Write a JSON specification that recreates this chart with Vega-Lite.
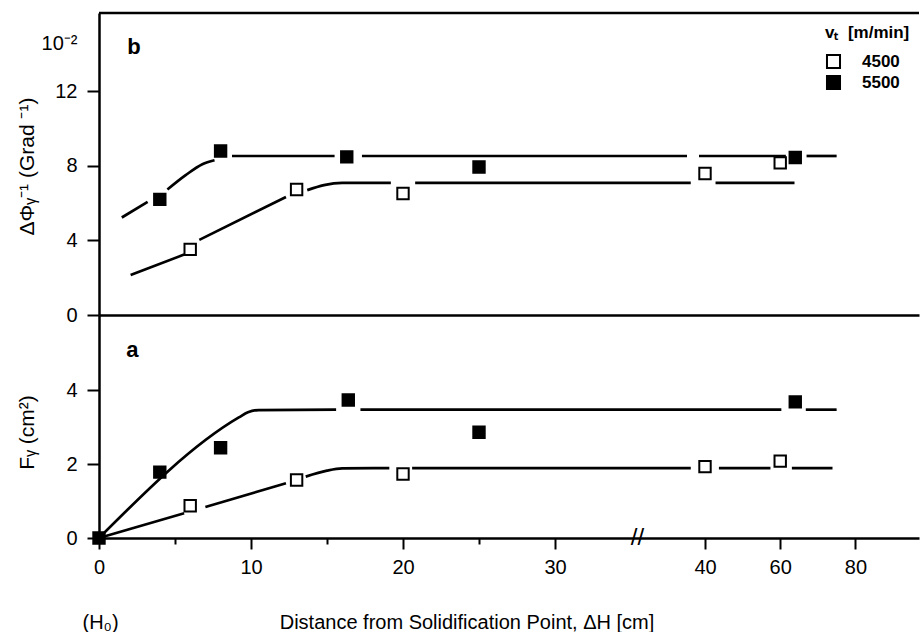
{
  "$schema": "https://vega.github.io/schema/vega-lite/v6.json",
  "background": "white",
  "padding": {"left": 16, "top": 11, "right": 0, "bottom": 0},
  "config": {
    "font": "Liberation Sans",
    "view": {"stroke": null},
    "axis": {"domainColor": "black", "domainWidth": 2.5, "tickColor": "black", "tickWidth": 2, "labelColor": "black", "titleColor": "black", "labelFontSize": 20, "titleFontSize": 20, "titleFontWeight": "normal", "grid": false, "labelFlush": false, "labelOverlap": false, "labelFont": "Liberation Sans", "titleFont": "Liberation Sans"}
  },
  "datasets": {
    "points": [
      {"panel": "b", "series": "4500", "x": 6, "y": 3.52},
      {"panel": "b", "series": "4500", "x": 13, "y": 6.73},
      {"panel": "b", "series": "4500", "x": 20, "y": 6.52},
      {"panel": "b", "series": "4500", "x": 40, "y": 7.59},
      {"panel": "b", "series": "4500", "x": 60, "y": 8.16},
      {"panel": "b", "series": "5500", "x": 4, "y": 6.2},
      {"panel": "b", "series": "5500", "x": 8, "y": 8.8},
      {"panel": "b", "series": "5500", "x": 16.3, "y": 8.48},
      {"panel": "b", "series": "5500", "x": 25, "y": 7.94},
      {"panel": "b", "series": "5500", "x": 64, "y": 8.45},
      {"panel": "a", "series": "4500", "x": 6, "y": 0.87},
      {"panel": "a", "series": "4500", "x": 13, "y": 1.57},
      {"panel": "a", "series": "4500", "x": 20, "y": 1.73},
      {"panel": "a", "series": "4500", "x": 40, "y": 1.93},
      {"panel": "a", "series": "4500", "x": 60, "y": 2.08},
      {"panel": "a", "series": "5500", "x": 0, "y": 0},
      {"panel": "a", "series": "5500", "x": 4, "y": 1.78},
      {"panel": "a", "series": "5500", "x": 8, "y": 2.44},
      {"panel": "a", "series": "5500", "x": 16.4, "y": 3.73},
      {"panel": "a", "series": "5500", "x": 25, "y": 2.86},
      {"panel": "a", "series": "5500", "x": 64, "y": 3.68}
    ],
    "lines": [
      {"panel": "b", "seg": "b5a", "x": 1.5, "y": 5.23},
      {"panel": "b", "seg": "b5a", "x": 3.2, "y": 6.07},
      {"panel": "b", "seg": "b5b", "x": 4.5, "y": 6.73},
      {"panel": "b", "seg": "b5b", "x": 5.7, "y": 7.5},
      {"panel": "b", "seg": "b5b", "x": 6.8, "y": 8.09},
      {"panel": "b", "seg": "b5b", "x": 7.6, "y": 8.3},
      {"panel": "b", "seg": "b5c", "x": 8.75, "y": 8.53},
      {"panel": "b", "seg": "b5c", "x": 15.5, "y": 8.53},
      {"panel": "b", "seg": "b5d", "x": 17.3, "y": 8.53},
      {"panel": "b", "seg": "b5d", "x": 38.8, "y": 8.53},
      {"panel": "b", "seg": "b5e", "x": 39.6, "y": 8.53},
      {"panel": "b", "seg": "b5e", "x": 61.5, "y": 8.53},
      {"panel": "b", "seg": "b5f", "x": 67, "y": 8.53},
      {"panel": "b", "seg": "b5f", "x": 75, "y": 8.53},
      {"panel": "b", "seg": "b4a", "x": 2.08, "y": 2.14},
      {"panel": "b", "seg": "b4a", "x": 5.6, "y": 3.24},
      {"panel": "b", "seg": "b4b", "x": 6.6, "y": 4.03},
      {"panel": "b", "seg": "b4b", "x": 12.3, "y": 6.33},
      {"panel": "b", "seg": "b4c", "x": 13.7, "y": 6.7},
      {"panel": "b", "seg": "b4c", "x": 14.8, "y": 6.97},
      {"panel": "b", "seg": "b4c", "x": 16, "y": 7.09},
      {"panel": "b", "seg": "b4c", "x": 19.2, "y": 7.09},
      {"panel": "b", "seg": "b4d", "x": 20.8, "y": 7.09},
      {"panel": "b", "seg": "b4d", "x": 39.05, "y": 7.09},
      {"panel": "b", "seg": "b4e", "x": 42.8, "y": 7.09},
      {"panel": "b", "seg": "b4e", "x": 63.8, "y": 7.09},
      {"panel": "a", "seg": "a5a", "x": 0, "y": 0},
      {"panel": "a", "seg": "a5a", "x": 9.2, "y": 3.26},
      {"panel": "a", "seg": "a5a", "x": 9.8, "y": 3.4},
      {"panel": "a", "seg": "a5a", "x": 10.5, "y": 3.46},
      {"panel": "a", "seg": "a5a", "x": 15.6, "y": 3.47},
      {"panel": "a", "seg": "a5b", "x": 17.2, "y": 3.47},
      {"panel": "a", "seg": "a5b", "x": 60.3, "y": 3.47},
      {"panel": "a", "seg": "a5c", "x": 66.8, "y": 3.47},
      {"panel": "a", "seg": "a5c", "x": 75, "y": 3.47},
      {"panel": "a", "seg": "a4a", "x": 0, "y": 0},
      {"panel": "a", "seg": "a4a", "x": 5.6, "y": 0.67},
      {"panel": "a", "seg": "a4b", "x": 7.0, "y": 0.84},
      {"panel": "a", "seg": "a4b", "x": 12.3, "y": 1.48},
      {"panel": "a", "seg": "a4c", "x": 13.6, "y": 1.66},
      {"panel": "a", "seg": "a4c", "x": 15, "y": 1.82},
      {"panel": "a", "seg": "a4c", "x": 16, "y": 1.88},
      {"panel": "a", "seg": "a4c", "x": 19.1, "y": 1.89},
      {"panel": "a", "seg": "a4d", "x": 20.6, "y": 1.89},
      {"panel": "a", "seg": "a4d", "x": 39.05, "y": 1.89},
      {"panel": "a", "seg": "a4e", "x": 43.7, "y": 1.89},
      {"panel": "a", "seg": "a4e", "x": 57.4, "y": 1.89},
      {"panel": "a", "seg": "a4f", "x": 63.1, "y": 1.89},
      {"panel": "a", "seg": "a4f", "x": 73.9, "y": 1.89}
    ]
  },
  "spacing": 0,
  "bounds": "flush",
  "resolve": {"scale": {"fill": "independent"}, "legend": {"fill": "independent"}},
  "vconcat": [
    {
      "width": 820,
      "height": 302,
      "layer": [
        {
          "data": {"name": "lines"},
          "transform": [{"filter": "datum.panel == 'b'"}],
          "mark": {"type": "line", "color": "black", "strokeWidth": 2.7, "interpolate": "monotone"},
          "encoding": {
            "x": {"field": "x", "type": "quantitative", "scale": {"domain": [0, 30, 40, 96.9], "range": [0, 456, 606, 820], "nice": false, "zero": false}, "axis": {"orient": "bottom", "labels": false, "ticks": false, "title": null}},
            "y": {"field": "y", "type": "quantitative", "scale": {"domain": [0, 16.2], "nice": false, "zero": false},
              "axis": {"values": [0, 4, 8, 12, 14.57], "labelExpr": "datum.value > 13 ? '10⁻²' : datum.label", "tickSize": 12, "tickOpacity": {"condition": {"test": "datum.value > 13", "value": 0}, "value": 1}, "labelPadding": 10, "title": "ΔΦᵧ⁻¹ (Grad ⁻¹)", "titleFontSize": 21, "titleX": -72, "titleY": 153, "titleAngle": 270, "titleBaseline": "middle", "titleAlign": "center"}},
            "detail": {"field": "seg", "type": "nominal"}
          }
        },
        {
          "data": {"values": [{"top": 16.2}]},
          "mark": {"type": "rule", "color": "black", "strokeWidth": 2.5},
          "encoding": {
            "y": {"field": "top", "type": "quantitative"}
          }
        },
        {
          "data": {"name": "points"},
          "transform": [{"filter": "datum.panel == 'b'"}],
          "mark": {"type": "point", "shape": "square", "filled": true, "size": 130, "stroke": "black", "strokeWidth": 2, "opacity": 1},
          "encoding": {
            "x": {"field": "x", "type": "quantitative"},
            "y": {"field": "y", "type": "quantitative"},
            "fill": {"field": "series", "type": "nominal", "scale": {"domain": ["4500", "5500"], "range": ["white", "black"]},
              "legend": {"title": "v\u209c\u00a0\u00a0[m/min]", "orient": "none", "legendX": 726, "legendY": 12, "titleFontSize": 17, "titleFontWeight": "bold", "titleColor": "black", "labelFontSize": 17, "labelFontWeight": "bold", "labelColor": "black", "symbolType": "square", "symbolSize": 170, "symbolStrokeColor": "black", "symbolStrokeWidth": 2, "labelOffset": 20, "rowPadding": -2, "titlePadding": 11}}
          }
        },
        {
          "data": {"values": [{"t": "b", "x": 2.3, "y": 14.35}]},
          "mark": {"type": "text", "fontSize": 22, "fontWeight": "bold", "color": "black", "align": "center", "baseline": "middle"},
          "encoding": {
            "x": {"field": "x", "type": "quantitative"},
            "y": {"field": "y", "type": "quantitative"},
            "text": {"field": "t"}
          }
        }
      ]
    },
    {
      "width": 820,
      "height": 223,
      "layer": [
        {
          "data": {"name": "lines"},
          "transform": [{"filter": "datum.panel == 'a'"}],
          "mark": {"type": "line", "color": "black", "strokeWidth": 2.7, "interpolate": "monotone"},
          "encoding": {
            "x": {"field": "x", "type": "quantitative", "scale": {"domain": [0, 30, 40, 96.9], "range": [0, 456, 606, 820], "nice": false, "zero": false},
              "axis": {"orient": "bottom", "values": [0, 5, 10, 15, 20, 25, 30, 40, 60, 80], "labelExpr": "(datum.value == 5 || datum.value == 15 || datum.value == 25) ? '' : datum.label", "tickSize": {"condition": {"test": "datum.value == 5 || datum.value == 15 || datum.value == 25", "value": 6}, "value": 11}, "labelPadding": 8, "title": "(H₀)\u00a0\u00a0\u00a0\u00a0\u00a0\u00a0\u00a0\u00a0\u00a0\u00a0\u00a0\u00a0\u00a0\u00a0\u00a0\u00a0\u00a0\u00a0\u00a0\u00a0\u00a0\u00a0\u00a0\u00a0\u00a0\u00a0\u00a0\u00a0\u00a0Distance from Solidification Point, ΔH [cm]", "titleX": -17, "titleY": 84, "titleAnchor": "start", "titleAlign": "left", "titleBaseline": "middle"}},
            "y": {"field": "y", "type": "quantitative", "scale": {"domain": [0, 6.03], "nice": false, "zero": false},
              "axis": {"values": [0, 2, 4], "tickSize": 12, "labelPadding": 10, "title": "Fᵧ (cm²)", "titleFontSize": 21, "titleX": -72, "titleY": 117, "titleAngle": 270, "titleBaseline": "middle", "titleAlign": "center"}},
            "detail": {"field": "seg", "type": "nominal"}
          }
        },
        {
          "data": {"name": "points"},
          "transform": [{"filter": "datum.panel == 'a'"}],
          "mark": {"type": "point", "shape": "square", "filled": true, "size": 130, "stroke": "black", "strokeWidth": 2, "opacity": 1},
          "encoding": {
            "x": {"field": "x", "type": "quantitative"},
            "y": {"field": "y", "type": "quantitative"},
            "fill": {"field": "series", "type": "nominal", "scale": {"domain": ["4500", "5500"], "range": ["white", "black"]}, "legend": null}
          }
        },
        {
          "data": {"values": [{"t": "a", "x": 2.2, "y": 5.08}]},
          "mark": {"type": "text", "fontSize": 22, "fontWeight": "bold", "color": "black", "align": "center", "baseline": "middle"},
          "encoding": {
            "x": {"field": "x", "type": "quantitative"},
            "y": {"field": "y", "type": "quantitative"},
            "text": {"field": "t"}
          }
        },
        {
          "data": {"values": [{"t": "//", "x": 35.5, "y": 0}]},
          "mark": {"type": "text", "fontSize": 24, "color": "black", "align": "center", "baseline": "middle"},
          "encoding": {
            "x": {"field": "x", "type": "quantitative"},
            "y": {"field": "y", "type": "quantitative"},
            "text": {"field": "t"}
          }
        }
      ]
    }
  ]
}
